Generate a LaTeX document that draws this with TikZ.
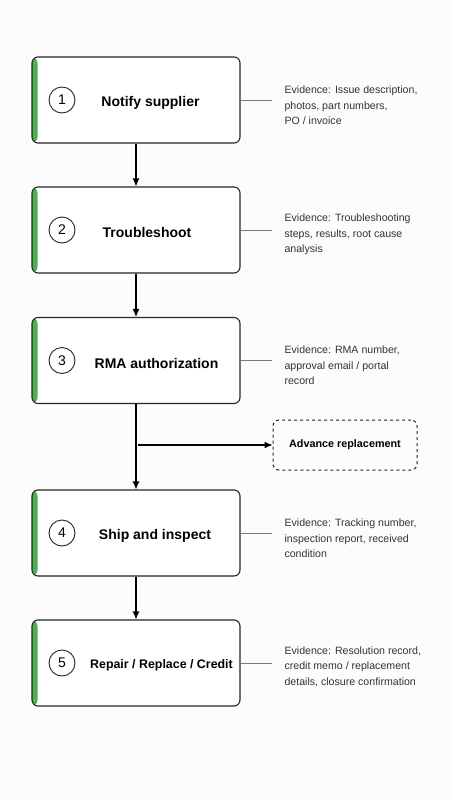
\documentclass[tikz,border=0pt]{standalone}
\usepackage{fontspec}
\setmainfont{Liberation Sans}
\usetikzlibrary{arrows.meta}

\definecolor{barGreen}{HTML}{4CAF50}
\definecolor{lineGray}{HTML}{7A7A7A}
\definecolor{textGray}{HTML}{333333}

\begin{document}
\begin{tikzpicture}[x=1pt,y=-1pt,
    stepbox/.style={draw=black!85,line width=1.1pt,rounded corners=6pt,fill=white,
      minimum width=208pt,minimum height=86pt,
      path picture={\fill[barGreen] (path picture bounding box.north west) rectangle ([xshift=5.5pt]path picture bounding box.south west);}},
    numcirc/.style={draw=black!85,line width=0.9pt,circle,minimum size=26pt,inner sep=0pt,font=\fontsize{14}{14}\selectfont},
    title/.style={font=\fontsize{14}{16}\selectfont\bfseries},
    evid/.style={anchor=west,align=left,text=textGray,font=\fontsize{10.6}{15.5}\selectfont},
    flow/.style={line width=1.1pt,-{Latex[length=8pt,width=7pt]}},
    link/.style={lineGray,line width=0.8pt}]
    \useasboundingbox[fill=black!1] (0,0) rectangle (450,800);
    % steps
    \node[stepbox] (s1) at (136,100) {};
    \node[stepbox] (s2) at (136,230) {};
    \node[stepbox] (s3) at (136,360.5) {};
    \node[stepbox] (s4) at (136,533) {};
    \node[stepbox] (s5) at (136,663) {};
    \node[numcirc] (n1) at (62,100) {1};
    \node[numcirc] (n2) at (62,230) {2};
    \node[numcirc] (n3) at (62,360.5) {3};
    \node[numcirc] (n4) at (62,533) {4};
    \node[numcirc] (n5) at (62,663) {5};
    \node[title] (t1) at (150.5,102.5) {Notify supplier};
    \node[title] (t2) at (147,232.5) {Troubleshoot};
    \node[title] (t3) at (156.5,363.5) {RMA authorization};
    \node[title] (t4) at (155,535.5) {Ship and inspect};
    \node[title,font=\fontsize{12.4}{15}\selectfont\bfseries] (t5) at (161.5,665) {Repair / Replace / Credit};
    % advance replacement
    \node[draw=black!85,line width=1pt,dashed,rounded corners=6pt,minimum width=144pt,minimum height=50pt,
      font=\fontsize{10.8}{12}\selectfont\bfseries] (adv) at (345,445) {Advance replacement};
    \coordinate (branch) at (138,445);
    % flow
    \draw[flow] (s1.south) -- (s2.north);
    \draw[flow] (s2.south) -- (s3.north);
    \draw[flow] (s3.south) -- (s4.north);
    \draw[flow] (branch) -- (adv.west);
    \draw[flow] (s4.south) -- (s5.north);
    % evidence
    \node[evid] (e1) at (281,105.5) {Evidence: Issue description,\\photos, part numbers,\\PO / invoice};
    \node[evid] (e2) at (281,234.5) {Evidence: Troubleshooting\\steps, results, root cause\\analysis};
    \node[evid] (e3) at (281,365.5) {Evidence: RMA number,\\approval email / portal\\record};
    \node[evid] (e4) at (281,538.5) {Evidence: Tracking number,\\inspection report, received\\condition};
    \node[evid] (e5) at (281,666.5) {Evidence: Resolution record,\\credit memo / replacement\\details, closure confirmation};
    \draw[link] (s1.east) -- (272,100);
    \draw[link] (s2.east) -- (272,230);
    \draw[link] (s3.east) -- (272,360.5);
    \draw[link] (s4.east) -- (272,533);
    \draw[link] (s5.east) -- (272,663);
\end{tikzpicture}
\end{document}
